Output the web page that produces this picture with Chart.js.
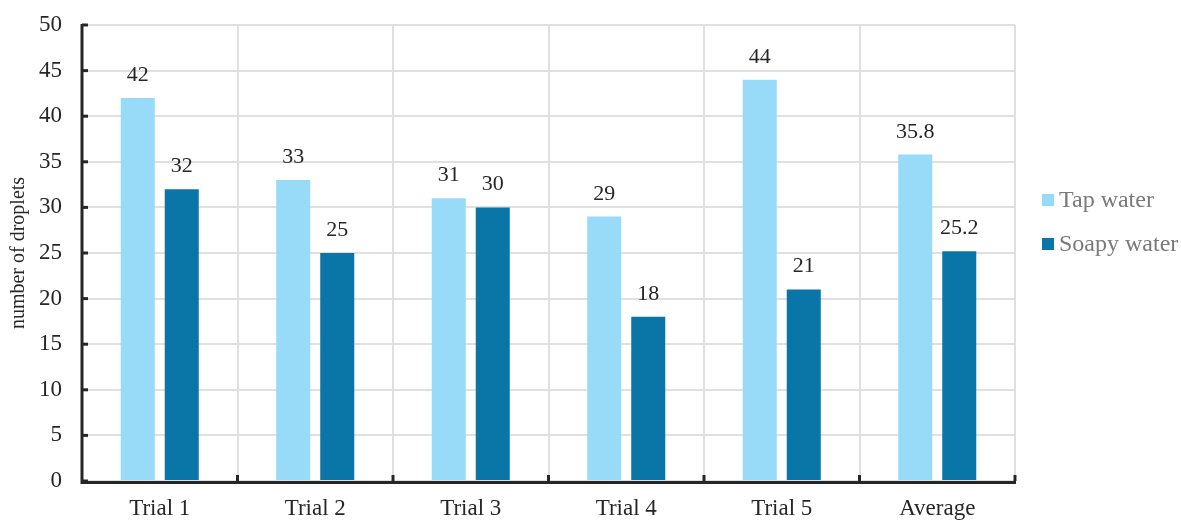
<!DOCTYPE html>
<html>
<head>
<meta charset="utf-8">
<script src="https://cdn.jsdelivr.net/npm/chart.js@4.4.1/dist/chart.umd.min.js"></script>
<style>
html,body{margin:0;padding:0;background:#fff;}
#wrap{width:1181px;height:521px;position:relative;}
</style>
</head>
<body>
<div id="wrap"><canvas id="c" width="1181" height="521"></canvas></div>
<script>
const categories = ["Trial 1", "Trial 2", "Trial 3", "Trial 4", "Trial 5", "Average"];
const tapWater = [42, 33, 31, 29, 44, 35.8];
const soapyWater = [32, 25, 30, 18, 21, 25.2];
const seriesNames = ["Tap water", "Soapy water"];
const yAxisTitle = "number of droplets";

const FONT = "'Liberation Serif', 'Times New Roman', serif";
const AXIS = "#262626";

const valueLabels = {
  id: 'valueLabels',
  afterDatasetsDraw(chart) {
    const ctx = chart.ctx;
    ctx.save();
    ctx.font = "22px " + FONT;
    ctx.fillStyle = "#262626";
    ctx.textAlign = "center";
    ctx.textBaseline = "alphabetic";
    chart.data.datasets.forEach((ds, i) => {
      chart.getDatasetMeta(i).data.forEach((bar, j) => {
        ctx.fillText(String(ds.data[j]), bar.x, bar.y - 17);
      });
    });
    ctx.restore();
  }
};

const axisDeco = {
  id: 'axisDeco',
  afterDraw(chart) {
    const ctx = chart.ctx;
    const a = chart.chartArea;
    const y = chart.scales.y, x = chart.scales.x;
    ctx.save();
    ctx.strokeStyle = AXIS;
    ctx.lineWidth = 3;
    ctx.beginPath();
    ctx.moveTo(a.left, a.top - 1);
    ctx.lineTo(a.left, a.bottom + 1.5);
    ctx.lineTo(a.right + 1, a.bottom + 1.5);
    ctx.stroke();
    y.ticks.forEach((t, i) => {
      const py = y.getPixelForTick(i);
      ctx.beginPath();
      ctx.moveTo(a.left, py);
      ctx.lineTo(a.left + 6, py);
      ctx.stroke();
    });
    const n = chart.data.labels.length;
    for (let i = 1; i <= n; i++) {
      const px = x.getPixelForValue(i - 0.5);
      ctx.beginPath();
      ctx.moveTo(px, a.bottom);
      ctx.lineTo(px, a.bottom - 6);
      ctx.stroke();
    }
    ctx.font = "24px " + FONT;
    ctx.textBaseline = "middle";
    ctx.textAlign = "left";
    chart.data.datasets.forEach((ds, i) => {
      const ly = 200 + i * 44;
      ctx.fillStyle = ds.backgroundColor;
      ctx.fillRect(1042, ly - 6, 12, 12);
      ctx.fillStyle = "#7a7a7a";
      ctx.fillText(ds.label, 1059, ly + 1);
    });
    ctx.restore();
  }
};

new Chart(document.getElementById('c'), {
  type: 'bar',
  data: {
    labels: categories,
    datasets: [
      { label: seriesNames[0], data: tapWater, backgroundColor: '#97dbf9' },
      { label: seriesNames[1], data: soapyWater, backgroundColor: '#0a75a7' }
    ]
  },
  options: {
    responsive: false,
    animation: false,
    devicePixelRatio: 1,
    layout: { padding: { top: 25, right: 166, left: 0, bottom: 0 } },
    datasets: { bar: { categoryPercentage: 0.566, barPercentage: 0.773 } },
    plugins: { legend: { display: false }, tooltip: { enabled: false } },
    scales: {
      x: {
        grid: { offset: true, color: '#e0e0e0', lineWidth: 2, drawTicks: false },
        border: { display: false },
        ticks: { font: { family: FONT, size: 23 }, color: '#262626', padding: 14 },
        afterFit(s) { s.height = 40; s.paddingLeft = 0; s.paddingRight = 0; }
      },
      y: {
        min: 0, max: 50,
        ticks: { stepSize: 5, font: { family: FONT, size: 23 }, color: '#262626', padding: 20 },
        grid: { color: '#e0e0e0', lineWidth: 2, drawTicks: false },
        border: { display: false },
        title: { display: true, text: yAxisTitle, font: { family: FONT, size: 20 }, color: '#262626', padding: { top: 7, bottom: 0 } },
        afterFit(s) { s.width = 82; s.paddingTop = 0; s.paddingBottom = 0; }
      }
    }
  },
  plugins: [valueLabels, axisDeco]
});
</script>
</body>
</html>
